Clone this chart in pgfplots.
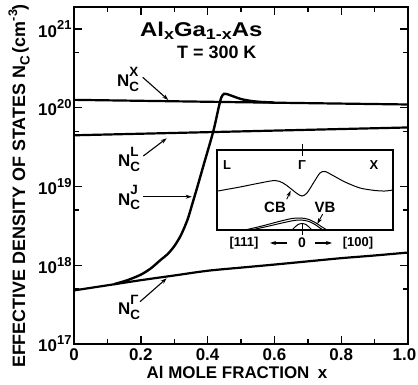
\documentclass[border=0pt]{standalone}
\usepackage{fontspec}
\setmainfont{Liberation Sans}
\usepackage{pgfplots}
\pgfplotsset{compat=1.18}
\usetikzlibrary{arrows.meta}
\newcommand{\fs}[1]{\fontsize{#1}{#1}\selectfont}
\newcommand{\NC}[1]{N\rlap{\raisebox{0.62em}{\fs{13.5}#1}}\raisebox{-0.25em}{\fs{13.5}C}}
\newcommand{\tenp}[1]{10\raisebox{0.42em}{\fs{13}#1}}
\begin{document}
\begin{tikzpicture}[>={Stealth[length=6bp,width=4bp]}]
\begin{axis}[
  at={(0,0)}, anchor=south west, scale only axis,
  width=334bp, height=337bp,
  ymode=log, xmin=0, xmax=1, ymin=1e17, ymax=1.905e21,
  xtick={0,0.2,0.4,0.6,0.8,1.0},
  xticklabels={0,0.2,0.4,0.6,0.8,1.0\rule{7bp}{0pt}},
  minor xtick={0.1,0.3,0.5,0.7,0.9},
  ytick={1e17,1e18,1e19,1e20,1e21},
  yticklabels={\tenp{17},\tenp{18},\tenp{19},\tenp{20},\tenp{21}},
  minor ytick={5e17,5e18,5e19,5e20},
  tick align=inside, xtick pos=both, ytick pos=both,
  major tick length=8bp, minor tick length=5bp,
  axis line style={line width=1.8bp},
  tick style={line width=1.4bp, black},
  tick label style={font=\fs{17}\bfseries},
  xticklabel style={yshift=-1bp},
  yticklabel style={xshift=1bp},
  clip=false,
]
% N_C^X
\addplot[black, line width=2.2bp] coordinates {(0,1.26e20) (0.5,1.175e20) (1,1.10e20)};
% N_C^L
\addplot[black, line width=2.2bp] coordinates {(0,4.47e19) (0.5,5.01e19) (1,5.62e19)};
% N_C^Gamma
\addplot[black, line width=2.2bp, smooth] coordinates {(0,4.79e17) (0.1,5.56e17) (0.2,6.46e17) (0.3,7.41e17) (0.4,8.51e17) (0.5,9.33e17) (0.6,1.02e18) (0.7,1.12e18) (0.8,1.23e18) (0.9,1.33e18) (1.0,1.45e18)};
% N_C^J
\addplot[black, line width=2.4bp, smooth, tension=0.45] coordinates {(0.12,5.75e17) (0.16,6.46e17) (0.20,7.59e17) (0.23,9.12e17) (0.26,1.175e18) (0.28,1.38e18) (0.30,1.74e18) (0.32,2.40e18) (0.34,3.80e18) (0.355,6.17e18) (0.369,9.77e18) (0.39,2.0e19) (0.417,5.01e19) (0.433,1.0e20) (0.441,1.35e20) (0.449,1.50e20) (0.46,1.48e20) (0.48,1.38e20) (0.50,1.29e20) (0.53,1.22e20) (0.56,1.185e20) (0.60,1.165e20)};
\end{axis}
% inset
\begin{axis}[
  at={(143bp,114bp)}, anchor=south west, scale only axis,
  width=176bp, height=80bp,
  xmin=0, xmax=176, ymin=0, ymax=80,
  xtick={85}, xticklabels={}, ytick=\empty,
  xtick align=center, xtick pos=both, major tick length=11bp,
  tick style={line width=1bp, black},
  axis line style={line width=1.1bp},
  clip=false,
]
\addplot[black, line width=1bp, smooth] coordinates {(1,39) (12,41) (23,43) (43,47) (58,49.5) (66,47) (73,42) (80,36.5) (85,34) (90,37) (97,48) (103,57) (108,58.5) (116,54.5) (128,48) (143,42) (158,39.5) (168,39) (176,40)};
\addplot[black, line width=1bp, smooth] coordinates {(28,0) (45,4) (62,8.5) (75,11.5) (84,12) (92,10.5) (99,7) (105,3) (110,0)};
\addplot[black, line width=1bp, smooth] coordinates {(34,0) (50,3.5) (65,7) (77,9.5) (84,10) (92,8.5) (98,5.5) (103,2) (106,0)};
\addplot[black, line width=1bp, smooth] coordinates {(75,0) (78,3) (81,5.5) (85,6.5) (89,5.5) (92,3) (95,0)};
\node[font=\fs{13}\bfseries] at (axis cs:10,64.5) {L};
\node[font=\fs{13}\bfseries] at (axis cs:85,64.5) {Γ};
\node[font=\fs{13}\bfseries] at (axis cs:157,64.5) {X};
\node[font=\fs{15}\bfseries] at (axis cs:58,22.5) {CB};
\node[font=\fs{15}\bfseries] at (axis cs:108,22.5) {VB};
\draw[->, line width=0.9bp] (axis cs:69.7,30.7) -- (axis cs:73.7,39.3);
\draw[->, line width=0.9bp] (axis cs:105.7,16) -- (axis cs:100.3,6);
\node[font=\fs{13}\bfseries] at (axis cs:27,-13) {[111]};
\node[font=\fs{14}\bfseries] at (axis cs:85,-13) {0};
\node[font=\fs{13}\bfseries] at (axis cs:141,-13) {[100]};
\draw[->, line width=1.1bp] (axis cs:70,-13) -- (axis cs:53,-13);
\draw[->, line width=1.1bp] (axis cs:98,-13) -- (axis cs:115,-13);
\end{axis}
% annotations in pixel coordinates of the reference
\begin{scope}[shift={(-74bp,344bp)}, x=1bp, y=-1bp, font=\fs{17}\bfseries]
\node[anchor=base west, inner sep=0] at (117,87) {\NC{X}};
\node[anchor=base west, inner sep=0] at (118,167) {\NC{L}};
\node[anchor=base west, inner sep=0] at (118,205.5) {\NC{J}};
\node[anchor=base west, inner sep=0] at (118,315) {\NC{Γ}};
\draw[->, line width=1.1bp] (142.7,77.3) -- (168.3,100);
\draw[->, line width=1.1bp] (143.3,156) -- (166.7,138.3);
\draw[->, line width=1.1bp] (143.3,196.7) -- (191.7,196.7);
\draw[->, line width=1.1bp] (140,301.7) -- (166.7,278.3);
\node[anchor=base west, inner sep=0, font=\fs{20}\bfseries] at (140,37) {\scalebox{1.2}[1]{Al\raisebox{-2.5bp}{\fs{15}x}Ga\raisebox{-2.5bp}{\fs{15}1-x}As}};
\node[anchor=base west, inner sep=0, font=\fs{18}\bfseries] at (177,58.5) {T = 300 K};
\node[rotate=90, inner sep=0, font=\fs{18}\bfseries] at (19,186) {EFFECTIVE DENSITY OF STATES N\raisebox{-0.25em}{\fs{13.5}C}\,(cm\raisebox{0.45em}{\fs{12.5}-3})};
\node[inner sep=0] at (237,372) {Al MOLE FRACTION\enspace x};
\end{scope}
\pgfresetboundingbox
\path[use as bounding box] (-74bp,-41bp) rectangle (344bp,344bp);
\end{tikzpicture}
\end{document}
